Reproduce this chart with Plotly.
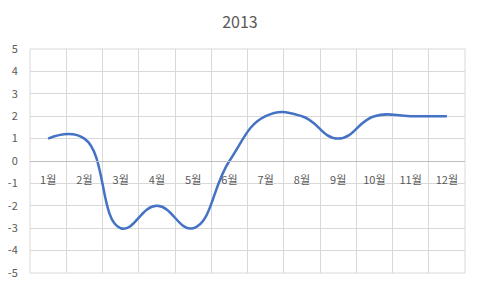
import plotly.graph_objects as go

months = ["1월", "2월", "3월", "4월", "5월", "6월", "7월", "8월", "9월", "10월", "11월", "12월"]
values_2013 = [1, 1, -3, -2, -3, 0, 2, 2, 1, 2, 2, 2]
y_ticks = [5, 4, 3, 2, 1, 0, -1, -2, -3, -4, -5]

font_family = "Noto Sans CJK KR, Noto Sans, sans-serif"
grid = "#d9d9d9"
text_col = "#595959"

fig = go.Figure()
fig.add_trace(go.Scatter(
    x=months, y=values_2013, mode="lines",
    line=dict(color="#4472C4", width=2.5, shape="spline", smoothing=1.3),
    hoverinfo="skip", showlegend=False,
))

fig.update_layout(
    width=480, height=288,
    margin=dict(l=30, r=15, t=49, b=15, autoexpand=False),
    paper_bgcolor="white", plot_bgcolor="white",
    title=dict(text="2013", x=0.5, xanchor="center", y=0.923, yanchor="middle",
               font=dict(family=font_family, size=16, color=text_col)),
    font=dict(family=font_family, size=11, color=text_col),
    xaxis=dict(
        type="category", range=[-0.5, 11.5], tickson="boundaries",
        showgrid=True, gridcolor=grid, gridwidth=1,
        anchor="free", position=0.5, automargin=False,
        showline=True, linecolor="#bfbfbf", linewidth=1,
        ticks="outside", ticklen=19, tickcolor="rgba(0,0,0,0)",
        ticklabelstandoff=9,
        tickfont=dict(family=font_family, size=11, color=text_col),
        zeroline=False,
    ),
    yaxis=dict(
        range=[-5, 5], tickvals=y_ticks, ticktext=[str(v) for v in y_ticks],
        showgrid=True, gridcolor=grid, gridwidth=1, automargin=False,
        showline=False, zeroline=False,
        ticks="outside", ticklen=9, tickcolor="rgba(0,0,0,0)",
        tickfont=dict(family=font_family, size=11, color=text_col),
    ),
    shapes=[dict(type="rect", xref="paper", yref="paper", x0=0, y0=0, x1=1, y1=1,
                 line=dict(color=grid, width=1), layer="below")],
)

fig.write_html("out.html")
